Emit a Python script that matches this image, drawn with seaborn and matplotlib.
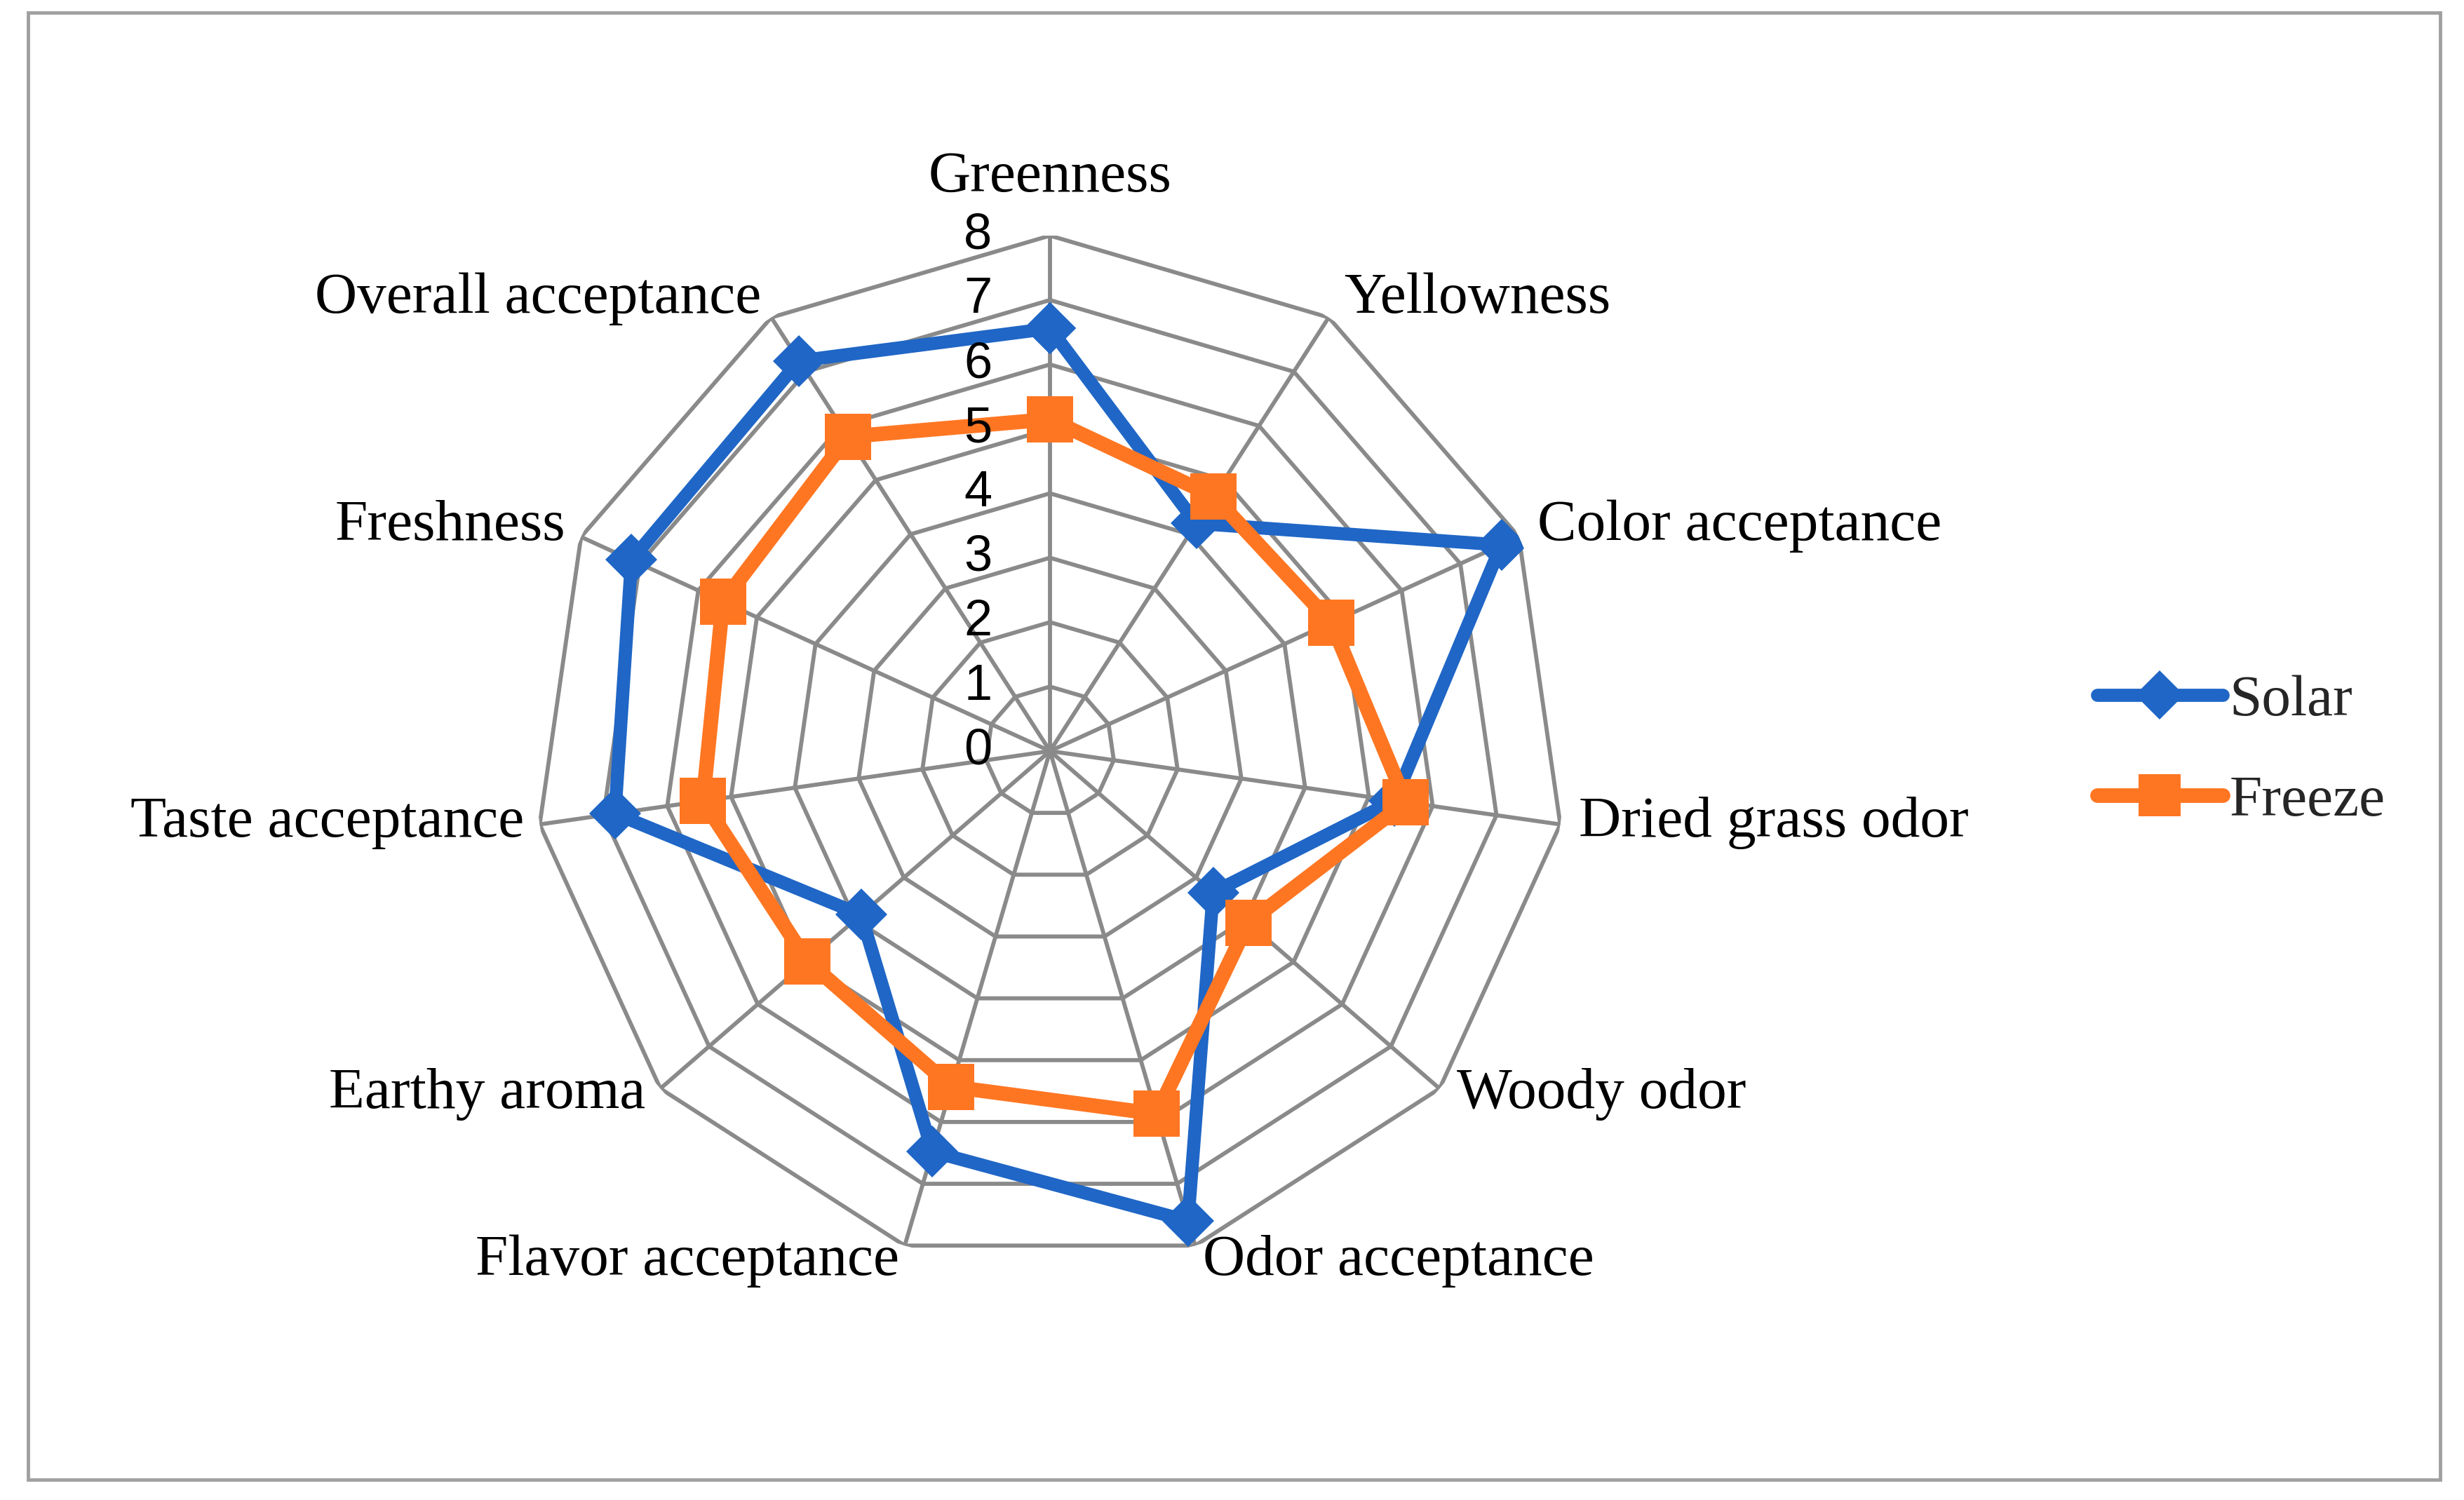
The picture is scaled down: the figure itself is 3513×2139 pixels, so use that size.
import numpy as np
import pandas as pd
import matplotlib
matplotlib.use("Agg")
import matplotlib.pyplot as plt
import seaborn as sns
from matplotlib.patches import Rectangle
from matplotlib.lines import Line2D

categories = ["Greenness", "Yellowness", "Color acceptance", "Dried grass odor",
              "Woody odor", "Odor acceptance", "Flavor acceptance", "Earthy aroma",
              "Taste acceptance", "Freshness", "Overall acceptance"]
solar = [6.56, 4.2, 7.7, 5.4, 3.35, 7.6, 6.48, 3.88, 6.82, 7.14, 7.2]
freeze = [5.15, 4.7, 4.8, 5.58, 4.07, 5.87, 5.43, 4.98, 5.44, 5.58, 5.8]
tick_values = [0, 1, 2, 3, 4, 5, 6, 7, 8]
series_names = ["Solar", "Freeze"]

sns.set_theme(style="white")
plt.rcParams["font.family"] = ["Liberation Serif", "DejaVu Serif"]

BLUE = "#1F66C6"
ORANGE = "#FF7622"
GRID = "#8a8a8a"

n = len(categories)
theta = np.linspace(0, 2 * np.pi, n, endpoint=False)
theta_c = np.append(theta, 2 * np.pi)

fig = plt.figure(figsize=(35.13, 21.39), dpi=100)
fig.patch.set_facecolor("white")

cx, cy = 1497 / 3513, 1 - 1071 / 2139
w, h = 1470 / 3513, 1470 / 2139
ax = fig.add_axes([cx - w / 2, cy - h / 2, w, h], projection="polar")
ax.set_theta_offset(np.pi / 2)
ax.set_theta_direction(-1)
ax.set_facecolor("none")

# polygon grid
for r in tick_values[1:]:
    ax.plot(theta_c, [r] * (n + 1), color=GRID, lw=4.2, zorder=1)
for t in theta:
    ax.plot([t, t], [0, tick_values[-1]], color=GRID, lw=4.2, zorder=1)

df = pd.DataFrame({
    "theta": np.concatenate([theta_c, theta_c]),
    "value": solar + [solar[0]] + freeze + [freeze[0]],
    "series": [series_names[0]] * (n + 1) + [series_names[1]] * (n + 1),
})

sns.lineplot(data=df[df.series == "Solar"], x="theta", y="value", ax=ax,
             color=BLUE, linewidth=13.5, marker="D", markersize=38, markeredgewidth=0,
             sort=False, estimator=None, errorbar=None, legend=False, zorder=3)
sns.lineplot(data=df[df.series == "Freeze"], x="theta", y="value", ax=ax,
             color=ORANGE, linewidth=15, marker="s", markersize=47, markeredgewidth=0,
             sort=False, estimator=None, errorbar=None, legend=False, zorder=4)

ax.set_xlabel("")
ax.set_ylabel("")
ax.set_ylim(0, tick_values[-1])
ax.grid(False)
ax.set_xticks([])
ax.set_yticks([])
ax.spines["polar"].set_visible(False)

# category labels
offsets = [(0, 60, "center"), (16, 19, "left"), (19, 11, "left"), (19, 2, "left"),
           (18, -6, "left"), (8, -16, "left"), (-6, -16, "right"), (-15, -6, "right"),
           (-16, 2, "right"), (-16, 11, "right"), (-10, 19, "right")]
for t, cat, (ox, oy, ha) in zip(theta, categories, offsets):
    ax.annotate(cat, xy=(t, tick_values[-1]), xytext=(ox, oy), textcoords="offset points",
                ha=ha, va="center", fontsize=60, color="black", annotation_clip=False,
                family=["Liberation Serif", "DejaVu Serif"], zorder=6)

# radial tick labels
for v in tick_values:
    ax.annotate(str(v), xy=(0, v), xytext=(-74, 0), textcoords="offset points",
                ha="center", va="center", fontsize=52, color="black",
                family=["Liberation Sans", "DejaVu Sans"], annotation_clip=False, zorder=6)

handles = [Line2D([], [], color=BLUE, lw=13.5, marker="D", markersize=36, markeredgewidth=0,
                  solid_capstyle="round"),
           Line2D([], [], color=ORANGE, lw=15, marker="s", markersize=43, markeredgewidth=0,
                  solid_capstyle="round")]
fig.legend(handles, series_names, loc="center left", bbox_to_anchor=(0.851, 0.499),
           frameon=False, fontsize=60, handlelength=2.15, handletextpad=0.12,
           labelspacing=0.8, borderpad=0, borderaxespad=0)

fig.add_artist(Rectangle((40 / 3513, 1 - 2110 / 2139), 3439 / 3513, 2092 / 2139,
                         transform=fig.transFigure, fill=False, edgecolor="#a0a0a0",
                         lw=3.5, zorder=0))

fig.savefig("out.png", dpi=100, facecolor="white")
